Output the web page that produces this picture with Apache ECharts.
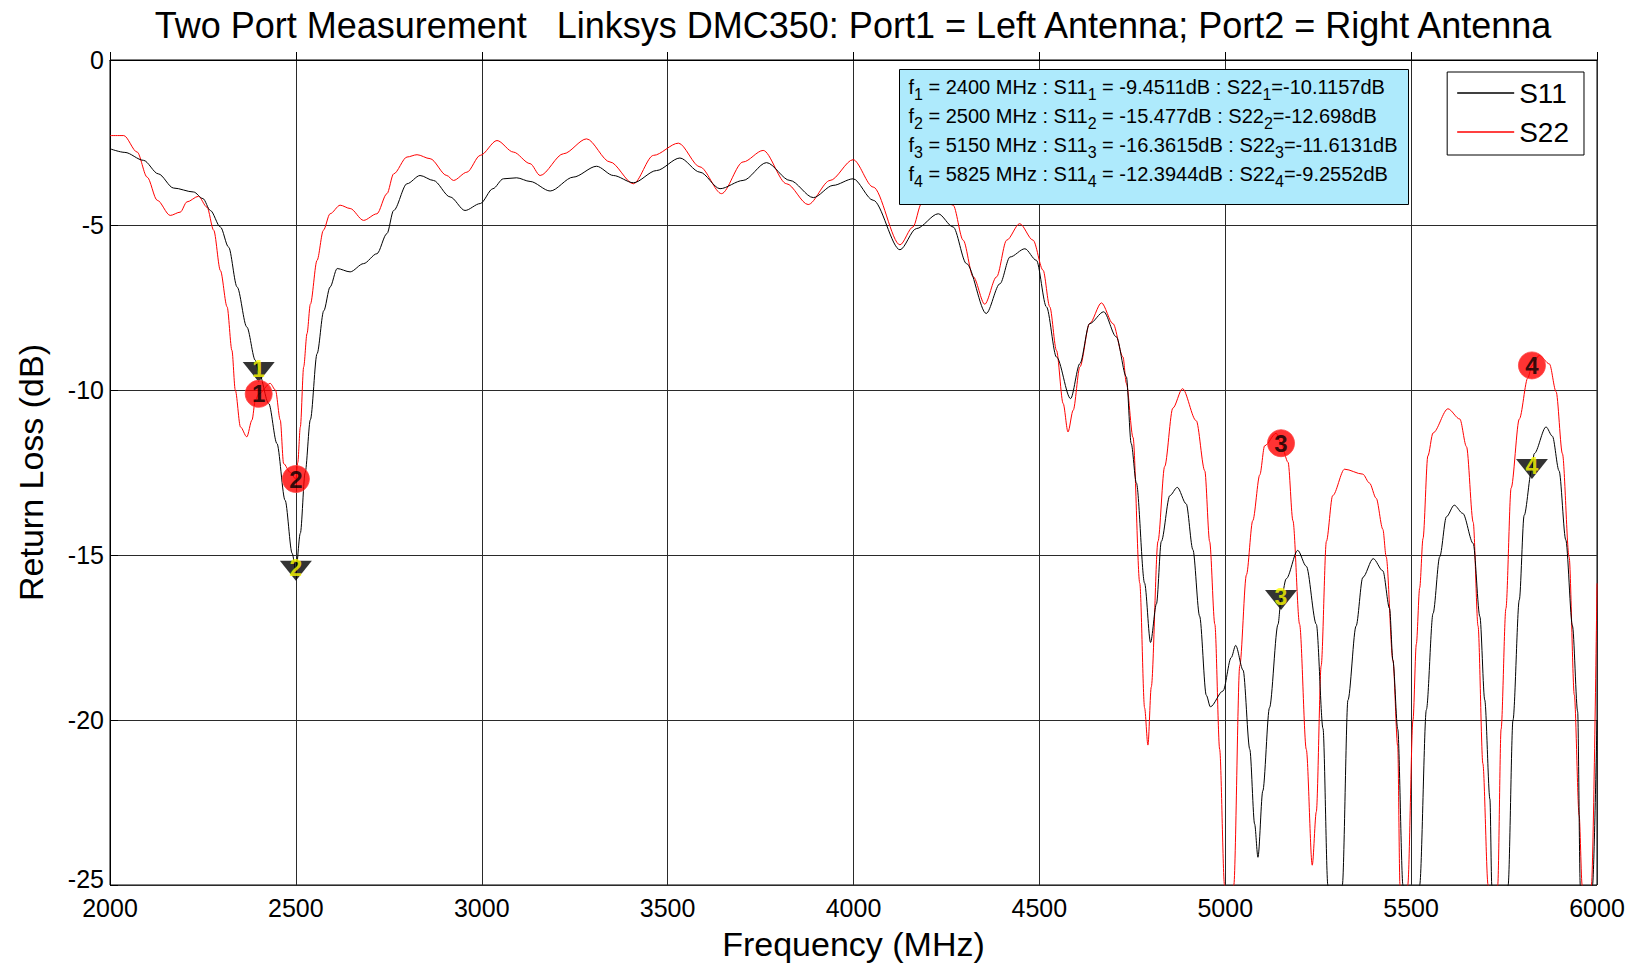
<!DOCTYPE html>
<html>
<head>
<meta charset="utf-8">
<title>Two Port Measurement</title>
<script src="https://cdn.jsdelivr.net/npm/echarts@6.0.0/dist/echarts.min.js"></script>
<style>
  html, body { margin: 0; padding: 0; background: #fff; }
  #chart { width: 1637px; height: 965px; }
</style>
</head>
<body>
<div id="chart"></div>
<script>
// S11 (port 1, black), values below -25 are off the plot
var s11Freq = [2000, 2040, 2090, 2130, 2171, 2225, 2250, 2270, 2297, 2319, 2342, 2368, 2391, 2400,
  2427, 2449, 2471, 2490, 2500, 2512, 2525, 2539, 2557, 2575, 2592, 2611, 2646, 2682, 2718, 2745,
  2763, 2799, 2834, 2870, 2915, 2955, 2996, 3030, 3058, 3094, 3130, 3184, 3246, 3309, 3354, 3408,
  3470, 3533, 3587, 3641, 3703, 3766, 3829, 3892, 3945, 3999, 4053, 4125, 4169, 4228, 4268, 4304,
  4357, 4394, 4421, 4461, 4492, 4519, 4546, 4584, 4609, 4635, 4673, 4707, 4734, 4747, 4761, 4783,
  4799, 4815, 4828, 4851, 4871, 4895, 4913, 4931, 4949, 4960, 4994, 5016, 5028, 5048, 5066, 5079,
  5088, 5101, 5119, 5142, 5150, 5164, 5195, 5218, 5245, 5263, 5276, 5295, 5315, 5330, 5352, 5370,
  5398, 5424, 5442, 5451, 5464, 5478, 5500, 5523, 5541, 5559, 5577, 5595, 5616, 5639, 5667, 5685,
  5698, 5712, 5717, 5740, 5761, 5774, 5791, 5804, 5825, 5831, 5863, 5880, 5898, 5916, 5934, 5948,
  5955, 5972, 5988, 6000];
var s11Loss = [-2.69, -2.8, -3.04, -3.45, -3.88, -4.0, -4.2, -4.56, -5.06, -5.67, -6.88, -8.09, -9.1, -9.45,
  -10.41, -11.62, -13.34, -14.95, -15.48, -14.34, -12.5, -10.9, -8.9, -7.6, -6.88, -6.32, -6.42, -6.17, -5.87, -5.26,
  -4.56, -3.75, -3.5, -3.65, -4.15, -4.56, -4.35, -3.9, -3.6, -3.57, -3.68, -3.97, -3.55, -3.22, -3.5, -3.72,
  -3.35, -2.97, -3.4, -3.9, -3.65, -3.11, -3.65, -4.17, -3.8, -3.6, -4.25, -5.75, -5.11, -4.66, -5.06, -6.17,
  -7.68, -6.78, -5.97, -5.72, -6.07, -7.48, -9.0, -10.26, -9.2, -7.99, -7.63, -8.39, -9.6, -11.62, -12.82, -15.85,
  -17.65, -16.48, -14.59, -13.2, -12.95, -13.45, -14.84, -16.85, -19.25, -19.6, -19.12, -18.11, -17.74, -18.49, -20.89, -23.15,
  -24.16, -22.15, -19.63, -17.1, -16.36, -15.72, -14.86, -15.34, -17.1, -20.26, -25, -29, -25, -19.4, -17.15, -15.68,
  -15.11, -15.48, -16.62, -18.19, -20.28, -25, -29, -25, -19.69, -16.77, -15.05, -13.84, -13.49, -13.74, -14.65, -16.87,
  -19.39, -22.4, -25, -29, -25, -20.0, -16.36, -13.8, -12.39, -11.93, -11.12, -11.4, -12.45, -14.54, -17.15, -19.75,
  -25, -29, -25, -20];

// S22 (port 2, red)
var s22Freq = [2000, 2037, 2073, 2100, 2127, 2162, 2189, 2207, 2238, 2261, 2279, 2297, 2315, 2328,
  2337, 2351, 2368, 2382, 2391, 2400, 2431, 2445, 2458, 2467, 2485, 2500, 2505, 2512, 2521, 2530,
  2539, 2557, 2574, 2592, 2619, 2646, 2682, 2718, 2745, 2763, 2799, 2826, 2861, 2906, 2924, 2960,
  2996, 3041, 3085, 3130, 3157, 3220, 3282, 3345, 3408, 3462, 3529, 3587, 3645, 3703, 3757, 3820,
  3878, 3937, 3999, 4053, 4125, 4160, 4183, 4220, 4268, 4295, 4322, 4353, 4385, 4412, 4447, 4483,
  4510, 4528, 4546, 4564, 4577, 4591, 4609, 4635, 4667, 4698, 4725, 4734, 4752, 4770, 4783, 4792,
  4801, 4819, 4837, 4859, 4885, 4922, 4945, 4958, 4972, 4985, 4998, 5010, 5023, 5039, 5057, 5074,
  5093, 5106, 5137, 5150, 5169, 5182, 5200, 5218, 5234, 5245, 5258, 5272, 5289, 5321, 5370, 5388,
  5406, 5424, 5433, 5451, 5464, 5470, 5480, 5491, 5505, 5514, 5523, 5532, 5545, 5559, 5599, 5631,
  5649, 5667, 5680, 5693, 5707, 5720, 5733, 5742, 5755, 5769, 5791, 5814, 5825, 5845, 5872, 5890,
  5907, 5925, 5939, 5952, 5960, 5972, 5985, 6000];
var s22Loss = [-2.29, -2.29, -2.79, -3.55, -4.25, -4.71, -4.61, -4.3, -4.13, -4.46, -5.16, -6.38, -7.48, -8.8,
  -10.0, -11.12, -11.42, -10.91, -10.31, -10.12, -9.8, -10.0, -10.91, -12.23, -12.5, -12.7, -12.2, -11.12, -9.3, -8.29,
  -7.4, -6.07, -5.16, -4.66, -4.4, -4.5, -4.86, -4.66, -4.05, -3.45, -2.94, -2.87, -2.99, -3.5, -3.65, -3.4,
  -2.89, -2.44, -2.79, -3.14, -3.5, -2.84, -2.39, -3.09, -3.75, -2.89, -2.52, -3.24, -4.05, -3.09, -2.74, -3.75,
  -4.38, -3.65, -3.02, -3.85, -5.6, -5.06, -4.35, -3.9, -4.4, -5.46, -6.57, -7.4, -6.57, -5.46, -4.96, -5.46,
  -6.37, -7.48, -8.8, -10.41, -11.27, -10.61, -9.3, -7.99, -7.36, -7.99, -9.0, -9.8, -11.44, -15.85, -19.63, -20.76,
  -19.0, -14.59, -12.32, -10.55, -9.96, -10.93, -12.45, -14.59, -17.1, -20.89, -25, -29, -25, -18.36, -15.6, -13.96,
  -12.57, -11.69, -11.31, -11.61, -12.19, -13.96, -17.1, -20.89, -24.4, -22.78, -18.36, -14.59, -13.2, -12.4, -12.55, -12.82,
  -13.28, -14.22, -15.06, -18.19, -20.8, -25, -29, -25, -20, -17.7, -16.0, -14.5, -12.0, -11.3, -10.57, -10.88,
  -11.72, -14.01, -17.15, -21.32, -25, -29, -25, -20.28, -16.62, -12.97, -10.88, -9.63, -9.26, -8.95, -9.21, -10.05,
  -11.93, -15.06, -19.24, -22.89, -25, -29, -25, -15.86];

// marker readouts
var markerFreq = [2400, 2500, 5150, 5825];
var markerS11 = [-9.4511, -15.477, -16.3615, -12.3944];
var markerS22 = [-10.1157, -12.698, -11.6131, -9.2552];

var FONT = 'Arial, "Liberation Sans", sans-serif';

function pairs(xs, ys) {
  var out = [];
  for (var i = 0; i < xs.length; i++) {
    out.push([xs[i], ys[i]]);
  }
  return out;
}

// text of the marker box, with subscripts
var boxLines = [];
for (var i = 0; i < markerFreq.length; i++) {
  var n = i + 1;
  boxLines.push('{a|f}{s|' + n + '}{a| = ' + markerFreq[i] + ' MHz : S11}{s|' + n + '}{a| = ' +
    markerS11[i] + 'dB : S22}{s|' + n + '}{a|=' + markerS22[i] + 'dB}');
}

var myChart = echarts.init(document.getElementById('chart'), null, { renderer: 'svg' });

var option = {
  backgroundColor: '#fff',
  animation: false,
  textStyle: { fontFamily: FONT },
  title: {
    text: 'Two Port Measurement   Linksys DMC350: Port1 = Left Antenna; Port2 = Right Antenna',
    left: 853,
    textAlign: 'center',
    top: 7,
    padding: 0,
    textStyle: { fontSize: 36, fontWeight: 'normal', color: '#000', fontFamily: FONT }
  },
  legend: {
    data: ['S11', 'S22'],
    orient: 'vertical',
    right: 53,
    top: 72,
    padding: [7, 15, 9, 10],
    itemGap: 11,
    itemWidth: 57,
    itemHeight: 1.5,
    icon: 'rect',
    backgroundColor: '#fff',
    borderColor: '#000',
    borderWidth: 1,
    borderRadius: 0,
    textStyle: { fontSize: 28, color: '#000', fontFamily: FONT, lineHeight: 27 }
  },
  grid: {
    left: 110,
    right: 40,
    top: 60,
    bottom: 80,
    show: true,
    borderColor: '#000',
    borderWidth: 1,
    backgroundColor: 'transparent',
    outerBoundsMode: 'none'
  },
  xAxis: {
    type: 'value',
    min: 2000,
    max: 6000,
    interval: 500,
    name: 'Frequency (MHz)',
    nameLocation: 'middle',
    nameGap: 42,
    nameTextStyle: { fontSize: 34, color: '#000', fontFamily: FONT },
    axisLine: { lineStyle: { color: '#000', width: 1 } },
    axisTick: { inside: true, length: 8, lineStyle: { color: '#000' } },
    axisLabel: {
      fontSize: 25, color: '#000', margin: 13, lineHeight: 20, fontFamily: FONT,
      formatter: function (v) { return String(v); }
    },
    splitLine: { show: true, lineStyle: { color: '#2a2a2a', width: 1 } }
  },
  yAxis: {
    type: 'value',
    min: -25,
    max: 0,
    interval: 5,
    name: 'Return Loss (dB)',
    nameLocation: 'middle',
    nameRotate: 90,
    nameGap: 62,
    nameTextStyle: { fontSize: 34, color: '#000', fontFamily: FONT },
    axisLine: { show: true, lineStyle: { color: '#000', width: 1 } },
    axisTick: { show: true, inside: true, length: 8, lineStyle: { color: '#000' } },
    axisLabel: {
      fontSize: 25, color: '#000', margin: 6, lineHeight: 20, fontFamily: FONT,
      // lift the bottom label a little so it clears the first x label
      formatter: function (v) { return v === -25 ? '{lo|' + v + '}' : String(v); },
      rich: { lo: { fontSize: 25, lineHeight: 20, padding: [0, 0, 12, 0], fontFamily: FONT, color: '#000' } }
    },
    splitLine: { show: true, lineStyle: { color: '#2a2a2a', width: 1 } }
  },
  series: [{
    name: 'S11',
    type: 'line',
    data: pairs(s11Freq, s11Loss),
    symbol: 'none',
    smooth: 0.3,
    smoothMonotone: 'x',
    clip: true,
    color: '#000',
    lineStyle: { color: '#000', width: 1 },
    z: 3
  }, {
    name: 'S22',
    type: 'line',
    data: pairs(s22Freq, s22Loss),
    symbol: 'none',
    smooth: 0.3,
    smoothMonotone: 'x',
    clip: true,
    color: '#ff0000',
    lineStyle: { color: '#ff0000', width: 1 },
    z: 2
  }, {
    name: 'S11 markers',
    type: 'scatter',
    data: pairs(markerFreq, markerS11),
    symbol: 'triangle',
    symbolRotate: 180,
    symbolSize: [32, 20],
    itemStyle: { color: '#000' },
    label: {
      show: true,
      position: 'inside',
      offset: [0, -3],
      formatter: function (p) { return String(p.dataIndex + 1); },
      color: '#ffff00',
      fontSize: 23,
      fontWeight: 'bold',
      fontFamily: FONT
    },
    z: 5
  }, {
    name: 'S22 markers',
    type: 'scatter',
    data: pairs(markerFreq, markerS22),
    symbol: 'circle',
    symbolSize: 27,
    itemStyle: { color: '#ff0000', borderColor: '#ff4040', borderWidth: 1 },
    label: {
      show: true,
      position: 'inside',
      formatter: function (p) { return String(p.dataIndex + 1); },
      color: '#000',
      fontSize: 24,
      fontWeight: 'bold',
      fontFamily: FONT
    },
    z: 6
  }],
  graphic: [{
    type: 'group',
    left: 899,
    top: 69,
    z: 100,
    children: [{
      type: 'rect',
      z: 100,
      shape: { x: 0, y: 0, width: 509, height: 135 },
      style: { fill: '#aeeafc', stroke: '#000', lineWidth: 1 }
    }, {
      type: 'text',
      z: 101,
      x: 9,
      y: 3,
      style: {
        text: boxLines.join('\n'),
        fill: '#000',
        fontFamily: FONT,
        fontSize: 20,
        rich: {
          a: { fontSize: 20, lineHeight: 29, fontFamily: FONT, fill: '#000' },
          s: { fontSize: 16, lineHeight: 16, padding: [14, 0, 0, 0], fontFamily: FONT, fill: '#000' }
        }
      }
    }]
  }]
};

myChart.setOption(option, true);
window.addEventListener('resize', function () {
  if (myChart) {
    myChart.resize();
  }
});
</script>
</body>
</html>
